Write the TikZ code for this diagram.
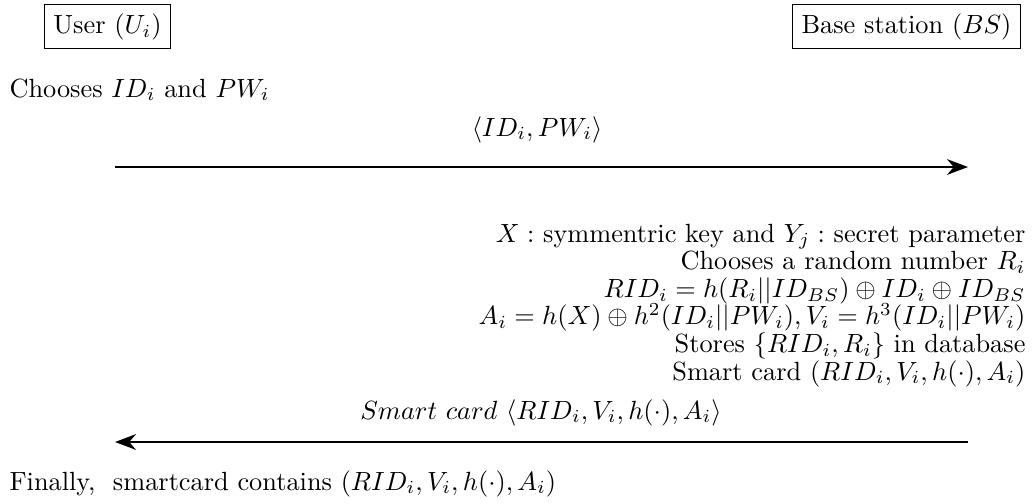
\documentclass[tikz,border=0pt]{standalone}
\usepackage{amsmath}
\usetikzlibrary{arrows.meta}

\tikzset{
  party/.style={draw,line width=0.55pt,inner sep=3.4pt},
  step text/.style={inner sep=0pt},
  msg/.style={line width=0.5pt,-{Stealth[length=8pt,width=6pt,inset=2.6pt]}}
}

\begin{document}
\begin{tikzpicture}[x=0.38pt,y=-0.38pt]
  \useasboundingbox (0,0) rectangle (1032,503);

  % parties
  \node[party] (user) at (107.5,26.5) {User ($U_i$)};
  \node[party] (bs) at (906.5,26.5) {Base station ($BS$)};

  % registration request
  \node[step text,anchor=base west] (choose) at (9,97) {Chooses $ID_i$ and $PW_i$};
  \coordinate (req from) at (115,167);
  \coordinate (req to) at (968,167);
  \draw[msg] (req from) -- (req to);
  \node[step text,anchor=base] (req) at (537,136) {$\langle ID_i, PW_i\rangle$};

  % base station side
  \node[step text,anchor=base east] (bs1) at (1026,242) {$X:$ symmentric key and $Y_j:$ secret parameter};
  \node[step text,anchor=base east] (bs2) at (1026,269.6) {Chooses a random number $R_i$};
  \node[step text,anchor=base east] (bs3) at (1026,297.2) {$RID_i = h(R_i||ID_{BS}) \oplus ID_i \oplus ID_{BS}$};
  \node[step text,anchor=base east] (bs4) at (1026,324.8) {$A_i = h(X) \oplus h^2(ID_i||PW_i), V_i = h^3(ID_i||PW_i)$};
  \node[step text,anchor=base east] (bs5) at (1026,352.4) {Stores $\{RID_i, R_i\}$ in database};
  \node[step text,anchor=base east] (bs6) at (1026,380) {Smart card $(RID_i, V_i, h(\cdot), A_i)$};

  % smart card issue
  \coordinate (card from) at (968,442);
  \coordinate (card to) at (115,442);
  \draw[msg] (card from) -- (card to);
  \node[step text,anchor=base] (card) at (541,419) {$Smart\ card\ \langle RID_i, V_i, h(\cdot), A_i\rangle$};

  \node[step text,anchor=base west] (final) at (9,490) {Finally,~ smartcard contains $(RID_i, V_i, h(\cdot), A_i)$};
\end{tikzpicture}
\end{document}
